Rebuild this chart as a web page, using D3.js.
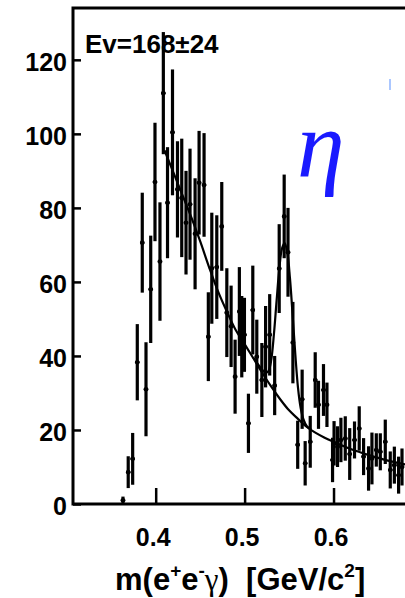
<!DOCTYPE html>
<html>
<head>
<meta charset="utf-8">
<script src="https://cdnjs.cloudflare.com/ajax/libs/d3/7.8.5/d3.min.js"></script>
<style>
body { margin: 0; background: #fff; }
.tick text { font-family: "Liberation Sans", Arial, sans-serif; font-weight: bold; font-size: 25px; fill: #000; }
</style>
</head>
<body>
<div id="chart"></div>
<script>
// m(e+e-gamma) histogram, values
var mass = [0.3632,0.3691,0.3741,0.3793,0.3849,0.3891,0.3944,0.3992,0.4048,0.4086,0.4133,0.4189,0.4245,0.4293,0.4341,0.4386,0.4443,0.4488,0.4544,0.4592,
  0.4631,0.4687,0.4743,0.4800,0.4848,0.4893,0.4941,0.4968,0.4998,0.5043,0.5092,0.5137,0.5194,0.5236,0.5282,0.5338,0.5389,0.5445,0.5488,0.5543,
  0.5597,0.5647,0.5681,0.5738,0.5794,0.5831,0.5887,0.5926,0.5989,0.6006,0.6045,0.6083,0.6132,0.6182,0.6236,0.6289,0.6338,0.6394,0.6432,0.6481,
  0.6526,0.6582,0.6638,0.6684,0.6732,0.6770]
var counts = [1,8.6,12.2,38.3,70.6,31,58,87,65.5,111,81.4,100.4,85,82.7,76,81,73,86.8,86.2,45.2,
  63.7,64,75,51.7,48,34.4,52,45.2,45.7,21.8,52.4,39.8,33.5,42.5,45.7,32,63.6,77.7,68,43.6,
  16,28.3,11,16.8,33.5,26.8,30.8,26.8,11.9,16.4,15.5,17.3,17.7,13.5,17.3,20.4,12.8,9.6,12.3,14.6,
  14.1,16.8,9.2,10.5,7.8,10]
var errors = [1,4.3,7,10.3,13.5,12.7,14.5,16,16,16.5,15,17,13,16,14,15,15,14,14,12,
  15,14,12,12,11,10,12,11,10,8,12,10,10,11,11,8,12,11.3,12,11,
  6.5,8,6,7,7.5,6.5,7,6,6,6,5.5,6,6,7,5,6,5,6,7,4.5,
  5,6,5,5,5,5]
var binHalf = 0.0025

// fitted background
var bgMass = [0.410,0.420,0.430,0.440,0.450,0.460,0.470,0.480,0.490,0.500,0.510,0.520,0.530,0.540,0.550,0.560,0.570,0.580,0.590,0.600,0.620,0.640,0.660,0.690]
var bgVal = [95.5,89.5,83.5,77.5,71,64,57.5,52,47,43.2,39.3,35.4,31.7,28.3,25.3,23,20.8,19.2,17.9,16.8,14.8,13.2,11.8,10.2]
// background + eta peak
var fitMass = [0.510,0.515,0.520,0.524,0.527,0.530,0.533,0.536,0.539,0.542,0.545,0.548,0.551,0.554,0.557,0.560,0.563,0.566,0.570,0.575]
var fitVal = [39.5,37.8,36.2,35.4,36,39,46,55,63.5,69,70.5,68,61,51,40.5,31.5,26,23,21,20.1]

var xTicks = [0.4, 0.5, 0.6]
var yTicks = [0, 20, 40, 60, 80, 100, 120]

var width = 405, height = 598
var pLeft = 73, pRight = 410, pTop = 8, pBottom = 504

var svg = d3.select("#chart").append("svg").attr("width", width).attr("height", height)

var x = d3.scaleLinear().domain([0.307, 0.686]).range([pLeft, pRight])
var y = d3.scaleLinear().domain([0, 134]).range([pBottom, pTop])

svg.append("clipPath").attr("id", "plot").append("rect")
  .attr("x", pLeft).attr("y", pTop).attr("width", pRight - pLeft).attr("height", pBottom - pTop)

var g = svg.append("g").attr("clip-path", "url(#plot)")

// error bars
var pts = mass.map(function(m, i) { return {m: m, v: counts[i], e: errors[i]} })
g.selectAll(".ebar").data(pts).enter().append("line")
  .attr("x1", function(d) { return x(d.m) }).attr("x2", function(d) { return x(d.m) })
  .attr("y1", function(d) { return y(Math.max(0, d.v - d.e)) })
  .attr("y2", function(d) { return y(d.v + d.e) })
  .attr("stroke", "#000").attr("stroke-width", 3.2)
g.selectAll(".hbar").data(pts).enter().append("line")
  .attr("x1", function(d) { return x(d.m - binHalf) }).attr("x2", function(d) { return x(d.m + binHalf) })
  .attr("y1", function(d) { return y(d.v) }).attr("y2", function(d) { return y(d.v) })
  .attr("stroke", "#000").attr("stroke-width", 2.2)
g.selectAll(".dot").data(pts).enter().append("circle")
  .attr("cx", function(d) { return x(d.m) }).attr("cy", function(d) { return y(d.v) })
  .attr("r", 2.3).attr("fill", "#000")

var line = d3.line().x(function(d) { return x(d[0]) }).y(function(d) { return y(d[1]) }).curve(d3.curveCatmullRom)
g.append("path").datum(d3.zip(bgMass, bgVal)).attr("d", line)
  .attr("fill", "none").attr("stroke", "#000").attr("stroke-width", 2.2)
g.append("path").datum(d3.zip(fitMass, fitVal)).attr("d", line)
  .attr("fill", "none").attr("stroke", "#000").attr("stroke-width", 2.2)

// axes
var yAxis = svg.append("g").attr("transform", "translate(" + pLeft + ",0)")
  .call(d3.axisLeft(y).tickValues(yTicks).tickSizeInner(-8).tickSizeOuter(0).tickPadding(6))
yAxis.select(".domain").remove()
yAxis.selectAll("line").attr("stroke-width", 2.5)
yAxis.selectAll("text").attr("dy", "0.42em")

var xAxis = svg.append("g").attr("transform", "translate(0," + pBottom + ")")
  .call(d3.axisBottom(x).tickValues(xTicks).tickSizeInner(-16).tickSizeOuter(0).tickPadding(24).tickFormat(d3.format(".1f")))
xAxis.select(".domain").remove()
xAxis.selectAll("line").attr("stroke-width", 2.5)
xAxis.selectAll("text").attr("dx", "-3")

// frame
svg.append("rect").attr("x", pLeft).attr("y", pTop).attr("width", pRight - pLeft).attr("height", pBottom - pTop)
  .attr("fill", "none").attr("stroke", "#000").attr("stroke-width", 3)

svg.append("text").attr("x", 85).attr("y", 53)
  .style("font-family", "Liberation Sans, Arial, sans-serif").style("font-weight", "bold").style("font-size", "26px")
  .text("Ev=168\u00b124")

svg.append("text").attr("x", 297).attr("y", 177)
  .style("font-family", "Liberation Serif, serif").style("font-style", "italic").style("font-size", "96px")
  .attr("fill", "#1a1aff").text("\u03b7")

// small blue stroke near the top right
svg.append("line").attr("x1", 390).attr("x2", 390).attr("y1", 79).attr("y2", 90)
  .attr("stroke", "#8fb4ff").attr("stroke-width", 1.5)

var t = svg.append("text").attr("x", 115).attr("y", 590)
  .style("font-family", "Liberation Sans, Arial, sans-serif").style("font-weight", "bold").style("font-size", "31px")
t.append("tspan").text("m(e")
t.append("tspan").attr("dy", -13).style("font-size", "19px").text("+")
t.append("tspan").attr("dy", 13).text("e")
t.append("tspan").attr("dy", -13).style("font-size", "19px").text("-")
t.append("tspan").attr("dy", 13).style("font-family", "Liberation Serif, serif").style("font-weight", "normal").text("\u03b3")
t.append("tspan").text(")\u00a0\u00a0[GeV/c")
t.append("tspan").attr("dy", -13).style("font-size", "19px").text("2")
t.append("tspan").attr("dy", 13).text("]")
</script>
</body>
</html>
